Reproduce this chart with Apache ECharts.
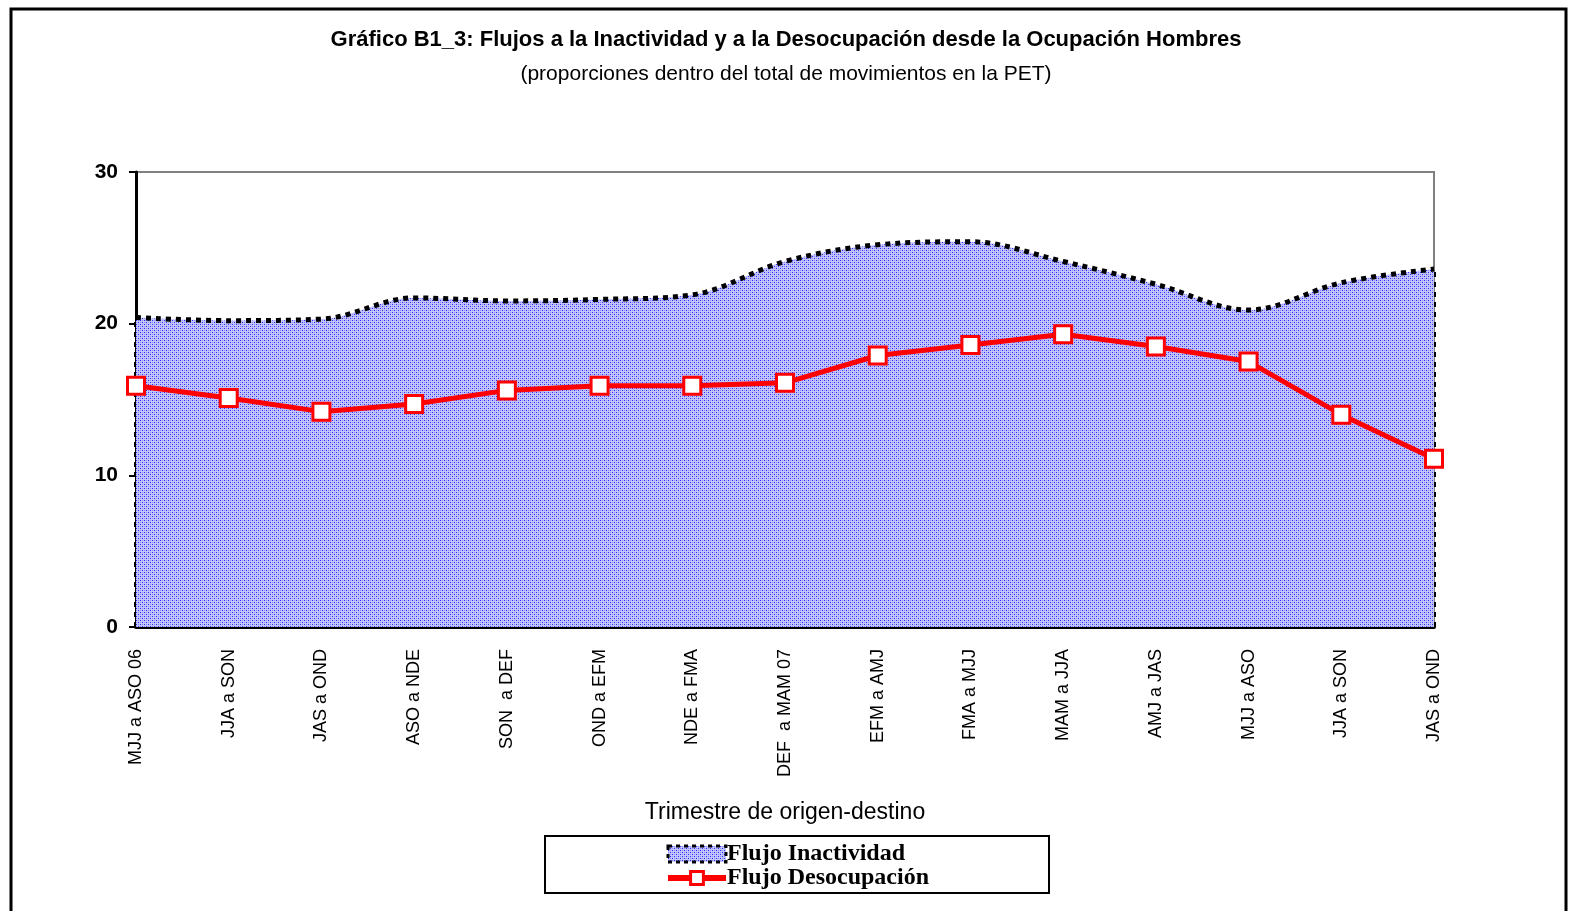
<!DOCTYPE html>
<html>
<head>
<meta charset="utf-8">
<script src="https://cdn.jsdelivr.net/npm/echarts@6/dist/echarts.min.js"></script>
<style>
  html, body { margin: 0; padding: 0; background: #fff; }
  #chart { width: 1572px; height: 911px; }
</style>
</head>
<body>
<div id="chart"></div>
<script>
// trimestres de origen-destino
const categories = [
  'MJJ a ASO 06', 'JJA a SON', 'JAS a OND', 'ASO a NDE', 'SON  a DEF',
  'OND a EFM', 'NDE a FMA', 'DEF  a MAM 07', 'EFM a AMJ', 'FMA a MJJ',
  'MAM a JJA', 'AMJ a JAS', 'MJJ a ASO', 'JJA a SON', 'JAS a OND'
];

const inactividad = [
  20.4, 20.2, 20.3, 21.7, 21.5, 21.6, 21.9, 24.1, 25.2, 25.4,
  24.1, 22.6, 20.9, 22.7, 23.6
];

const desocupacion = [
  15.9, 15.1, 14.2, 14.7, 15.6, 15.9, 15.9, 16.1, 17.9, 18.6,
  19.3, 18.5, 17.5, 14.0, 11.1
];

const yTicks = [0, 10, 20, 30];

const narrow = "'Liberation Sans Narrow', 'Arial Narrow', 'Liberation Sans', sans-serif";

// blue dotted fill like the excel pattern
const makePattern = () => {
  const c = document.createElement('canvas');
  c.width = 4;
  c.height = 4;
  const ctx = c.getContext('2d');
  ctx.fillStyle = '#c4c4ff';
  ctx.fillRect(0, 0, 4, 4);
  ctx.fillStyle = '#2a2aff';
  ctx.fillRect(0, 0, 1, 1);
  ctx.fillRect(2, 2, 1, 1);
  ctx.fillStyle = '#8c8cff';
  ctx.fillRect(2, 0, 1, 1);
  ctx.fillRect(0, 2, 1, 1);
  return { image: c, repeat: 'repeat' };
};
const dots = makePattern();

const chart = echarts.init(document.getElementById('chart'));

chart.setOption({
  animation: false,
  backgroundColor: '#fff',
  title: {
    text: 'Gráfico B1_3: Flujos a la Inactividad y a la Desocupación desde la Ocupación Hombres',
    subtext: '(proporciones dentro del total de movimientos en la PET)',
    left: 'center',
    top: 24,
    itemGap: 13,
    textStyle: { fontFamily: narrow, fontSize: 22, fontWeight: 'bold', color: '#000' },
    subtextStyle: { fontFamily: narrow, fontSize: 21, color: '#000' }
  },
  graphic: [
    {
      type: 'rect',
      shape: { x: 11, y: 9, width: 1555, height: 920 },
      style: { fill: 'none', stroke: '#000', lineWidth: 3 },
      silent: true
    }
  ],
  legend: {
    orient: 'vertical',
    left: 545,
    top: 836,
    padding: [6, 120, 3, 120],
    itemGap: 0,
    itemWidth: 58,
    itemHeight: 16,
    borderColor: '#000',
    borderWidth: 2,
    textStyle: {
      fontFamily: "'Liberation Serif', 'Times New Roman', serif",
      fontSize: 24,
      fontWeight: 'bold',
      color: '#000',
      lineHeight: 24,
      padding: [0, 0, 0, -4]
    },
    data: [
      {
        name: 'Flujo Inactividad',
        icon: 'rect',
        itemStyle: { color: dots, borderColor: '#000', borderWidth: 3, borderType: [4, 4] }
      },
      {
        name: 'Flujo Desocupación',
        lineStyle: { color: '#ff0000', width: 6 },
        itemStyle: { color: '#fff', borderColor: '#ff0000', borderWidth: 3 }
      }
    ]
  },
  grid: {
    left: 136,
    right: 138,
    top: 172,
    bottom: 284,
    show: true,
    borderColor: '#808080',
    borderWidth: 2
  },
  xAxis: {
    type: 'category',
    data: categories,
    boundaryGap: false,
    name: 'Trimestre de origen-destino',
    nameLocation: 'middle',
    nameGap: 174,
    nameTextStyle: { fontFamily: narrow, fontSize: 23, color: '#000' },
    axisLine: { lineStyle: { color: '#000', width: 4 } },
    axisTick: { show: false },
    axisLabel: {
      rotate: 90,
      margin: 22,
      interval: 0,
      fontFamily: narrow,
      fontSize: 18,
      color: '#000'
    },
    splitLine: { show: false }
  },
  yAxis: {
    type: 'value',
    min: yTicks[0],
    max: yTicks[yTicks.length - 1],
    interval: 10,
    axisLine: { show: true, lineStyle: { color: '#000', width: 3 } },
    axisTick: { show: true, length: 7, lineStyle: { color: '#000', width: 2 } },
    axisLabel: {
      margin: 18,
      fontFamily: narrow,
      fontSize: 21,
      fontWeight: 'bold',
      color: '#000'
    },
    splitLine: { show: false }
  },
  series: [
    {
      name: 'Flujo Inactividad',
      type: 'line',
      data: inactividad,
      smooth: 0.35,
      showSymbol: false,
      symbol: 'none',
      lineStyle: { color: '#000', width: 5, type: [5, 5] },
      itemStyle: { color: dots },
      areaStyle: { color: dots, opacity: 1 },
      z: 1,
      markLine: {
        silent: true,
        z: 1,
        symbol: 'none',
        label: { show: false },
        lineStyle: { color: '#000', width: 4, type: [5, 5] },
        data: [
          [{ coord: [14, 0] }, { coord: [14, inactividad[14]] }],
          [{ coord: [0, 0] }, { coord: [0, inactividad[0]] }]
        ]
      }
    },
    {
      name: 'Flujo Desocupación',
      type: 'line',
      data: desocupacion,
      symbol: 'rect',
      symbolSize: 17,
      showAllSymbol: true,
      lineStyle: { color: '#ff0000', width: 5 },
      itemStyle: { color: '#fff', borderColor: '#ff0000', borderWidth: 3 },
      z: 3
    }
  ]
});
</script>
</body>
</html>
